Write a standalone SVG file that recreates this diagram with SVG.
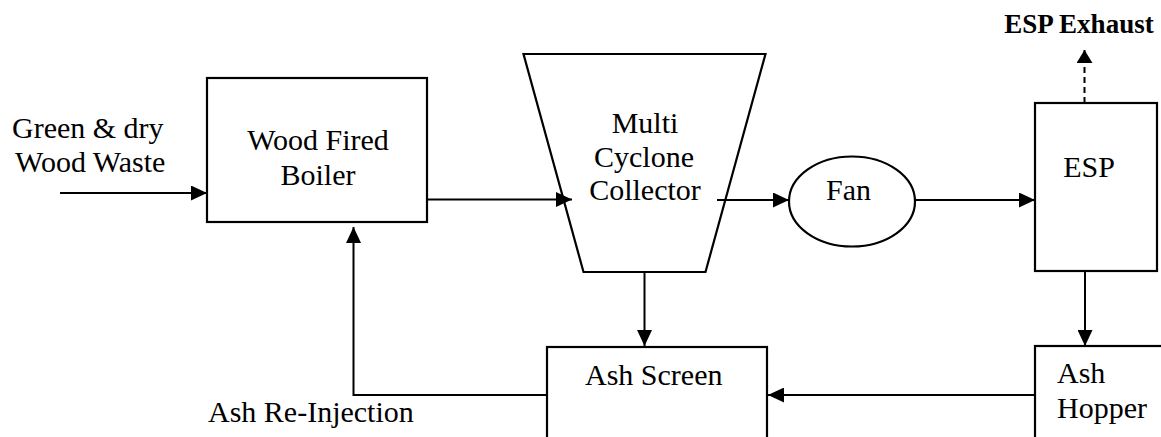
<svg xmlns="http://www.w3.org/2000/svg" width="1161" height="437" viewBox="0 0 1161 437">
<style>
.box{fill:none;stroke:#000;stroke-width:2.2}
.ln{fill:none;stroke:#000;stroke-width:2}
.t{font-family:"Liberation Serif","Times New Roman",serif;font-size:30px;fill:#000}
.b{font-weight:bold;font-size:27px}
</style>
<defs>
<marker id="ah" markerUnits="userSpaceOnUse" markerWidth="16" markerHeight="15" refX="16" refY="7.5" orient="auto">
<path d="M0,0 L16,7.5 L0,15 z" fill="#000"/>
</marker>
<marker id="ahs" markerUnits="userSpaceOnUse" markerWidth="13" markerHeight="16" refX="13" refY="8" orient="auto">
<path d="M0,0 L13,8 L0,16 z" fill="#000"/>
</marker>
</defs>
<rect width="1161" height="437" fill="#fff"/>
<g id="connectors">
<line class="ln" x1="60" y1="193" x2="207" y2="193" marker-end="url(#ah)"/>
<line class="ln" x1="427" y1="199.5" x2="572" y2="199.5" marker-end="url(#ah)"/>
<line class="ln" x1="717" y1="200" x2="789" y2="200" marker-end="url(#ah)"/>
<line class="ln" x1="915" y1="200" x2="1035" y2="200" marker-end="url(#ah)"/>
<line class="ln" x1="1084.5" y1="103" x2="1084.5" y2="50" stroke-dasharray="6,4" marker-end="url(#ahs)"/>
<line class="ln" x1="1085" y1="271" x2="1085" y2="346" marker-end="url(#ah)"/>
<line class="ln" x1="644.5" y1="272" x2="644.5" y2="346" stroke-width="1.4" marker-end="url(#ah)"/>
<line class="ln" x1="1035" y1="395" x2="768" y2="395" marker-end="url(#ah)"/>
<polyline class="ln" points="547,395 353.5,395 353.5,227" marker-end="url(#ah)"/>
</g>
<g id="input-label">
<text class="t" x="12" y="138">Green &amp; dry</text>
<text class="t" x="15" y="172">Wood Waste</text>
</g>
<g id="boiler">
<rect class="box" x="207" y="78" width="220" height="144"/>
<text class="t" x="318" y="150" text-anchor="middle">Wood Fired</text>
<text class="t" x="318" y="185" text-anchor="middle">Boiler</text>
</g>
<g id="collector">
<polygon class="box" points="523.5,54 765.5,54 705.5,272 583.5,272"/>
<text class="t" x="645" y="133" text-anchor="middle">Multi</text>
<text class="t" x="644" y="167" text-anchor="middle">Cyclone</text>
<text class="t" x="645" y="200" text-anchor="middle">Collector</text>
</g>
<g id="fan">
<ellipse class="box" cx="852" cy="201.5" rx="63" ry="45"/>
<text class="t" x="848.5" y="200" text-anchor="middle">Fan</text>
</g>
<g id="esp">
<rect class="box" x="1035" y="103" width="122" height="168"/>
<text class="t" x="1089" y="177" text-anchor="middle">ESP</text>
</g>
<g id="esp-exhaust">
<text class="t b" x="1079" y="33" text-anchor="middle">ESP Exhaust</text>
</g>
<g id="ash-screen">
<rect class="box" x="547" y="347" width="220" height="110"/>
<text class="t" x="585" y="385">Ash Screen</text>
</g>
<g id="ash-hopper">
<rect class="box" x="1035" y="346" width="140" height="110"/>
<text class="t" x="1057" y="383">Ash</text>
<text class="t" x="1057" y="418">Hopper</text>
</g>
<g id="reinjection-label">
<text class="t" x="208" y="422">Ash Re-Injection</text>
</g>
</svg>
